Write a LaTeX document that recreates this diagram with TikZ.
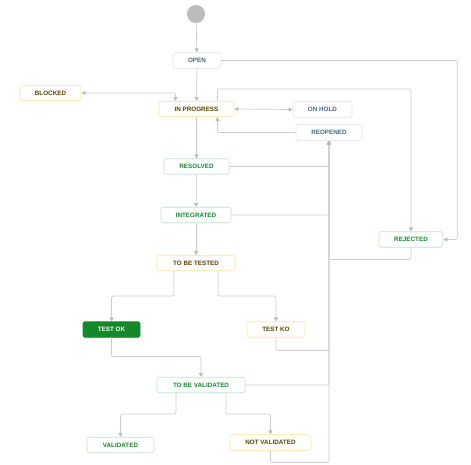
\documentclass[tikz,border=0pt]{standalone}
\usepackage{fontspec}
\setmainfont{Liberation Sans}
\usepackage{tikz}
\usetikzlibrary{arrows.meta}

\definecolor{linegray}{HTML}{CCCCCC}
\definecolor{tipgray}{HTML}{BBBBBB}
\definecolor{bluetext}{HTML}{4A6785}
\definecolor{browntext}{HTML}{594300}
\definecolor{greentext}{HTML}{14892C}
\definecolor{yellowline}{HTML}{FFE3A0}
\definecolor{greenline}{HTML}{BFE3C6}
\definecolor{grayline}{HTML}{E2E2E2}

\begin{document}
\begin{tikzpicture}[x=1pt,y=-1pt]

    \tikzstyle{state} = [draw, rounded corners=1.5pt, line width=0.6pt, inner sep=0pt, minimum height=15.5pt, font=\fontsize{6.3}{7}\selectfont\bfseries]
    \tikzstyle{todo} = [state, draw=grayline, text=bluetext]
    \tikzstyle{busy} = [state, draw=yellowline, text=browntext]
    \tikzstyle{done} = [state, draw=greenline, text=greentext]
    \tikzstyle{flow} = [draw=linegray, line width=0.7pt, rounded corners=2pt, -{Triangle[length=4pt,width=4pt,color=tipgray]}]
    \tikzstyle{twoway} = [flow, {Triangle[length=4pt,width=4pt,color=tipgray]}-{Triangle[length=4pt,width=4pt,color=tipgray]}]

    \useasboundingbox (0,0) rectangle (471,464);

    % Nodes
    \node[circle, fill=tipgray, minimum size=18pt, inner sep=0pt] at (196,14) (start) {};
    \node[todo, minimum width=48pt] at (197,60.5) (open) {OPEN};
    \node[busy, minimum width=61pt] at (50.5,93) (blocked) {BLOCKED};
    \node[busy, minimum width=75pt] at (196.5,109) (inprog) {IN PROGRESS};
    \node[todo, minimum width=59pt] at (322.5,109.5) (onhold) {ON HOLD};
    \node[todo, minimum width=66pt] at (329,132.5) (reopened) {REOPENED};
    \node[done, minimum width=65pt] at (196.5,166.5) (resolved) {RESOLVED};
    \node[done, minimum width=70pt] at (196,215) (integrated) {INTEGRATED};
    \node[done, minimum width=64pt] at (411,239.5) (rejected) {REJECTED};
    \node[busy, minimum width=78pt] at (196,263) (tobetested) {TO BE TESTED};
    \node[state, draw=greentext, fill=greentext, text=white, minimum width=57pt] at (111.5,329.5) (testok) {TEST OK};
    \node[busy, minimum width=58pt] at (276,329.5) (testko) {TEST KO};
    \node[done, minimum width=88pt] at (201,385) (tobevalidated) {TO BE VALIDATED};
    \node[done, minimum width=67pt] at (120.5,445) (validated) {VALIDATED};
    \node[busy, minimum width=81pt] at (270.5,442.5) (notvalidated) {NOT VALIDATED};

    % Main line
    \draw[flow] (start) -- (open);
    \draw[flow] (open) -- (inprog);
    \draw[flow] (inprog) -- (resolved);
    \draw[flow] (resolved) -- (integrated);
    \draw[flow] (integrated) -- (tobetested);

    % Side states
    \draw[twoway] (blocked.east) -| ([xshift=-21pt]inprog.north);
    \draw[twoway] (inprog.east) -- (onhold.west);
    \draw[flow] (reopened.west) -| ([xshift=21pt]inprog.south);

    % Rejected
    \draw[flow] ([xshift=21pt]inprog.north) -- ++(0,-12) -| (rejected.north);
    \draw[flow] (open.east) -- ++(236,0) |- (rejected.east);

    % Back to reopened
    \draw[flow] (resolved.east) -| (reopened.south);
    \draw[flow] (integrated.east) -| (reopened.south);
    \draw[flow] (rejected.south) -- ++(0,12) -| (reopened.south);
    \draw[flow] (testko.south) -- ++(0,13) -| (reopened.south);
    \draw[flow] (tobevalidated.east) -| (reopened.south);
    \draw[flow] (notvalidated.south) -- ++(0,12) -| (reopened.south);

    % Testing
    \draw[flow] ([xshift=-22pt]tobetested.south) -- ++(0,25) -| (testok.north);
    \draw[flow] ([xshift=22pt]tobetested.south) -- ++(0,25) -| (testko.north);
    \draw[flow] (testok.south) -- ++(0,19) -| (tobevalidated.north);

    % Validation
    \draw[flow] ([xshift=-25pt]tobevalidated.south) -- ++(0,21) -| (validated.north);
    \draw[flow] ([xshift=25pt]tobevalidated.south) -- ++(0,21) -| (notvalidated.north);

\end{tikzpicture}
\end{document}
